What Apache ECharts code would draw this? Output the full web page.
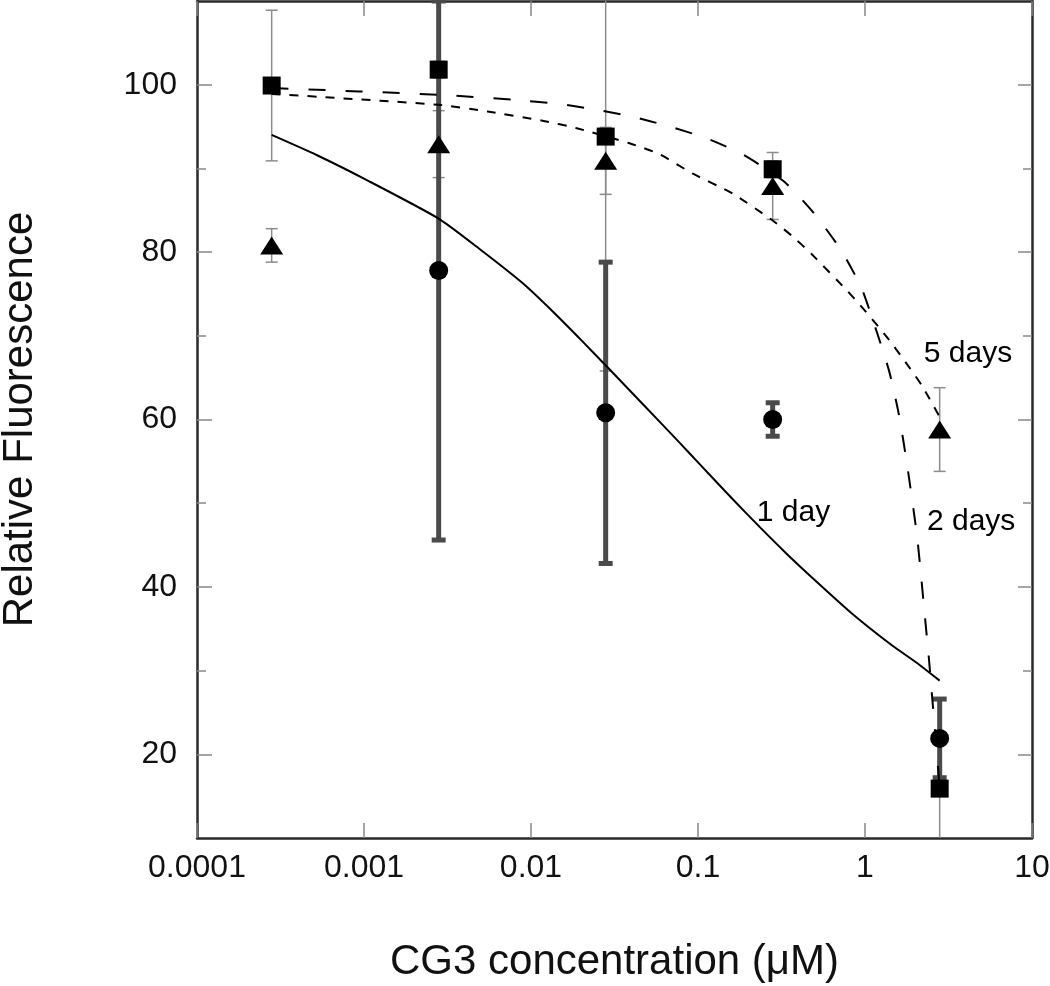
<!DOCTYPE html>
<html>
<head>
<meta charset="utf-8">
<script src="https://cdn.jsdelivr.net/npm/echarts@6/dist/echarts.min.js"></script>
<style>
html,body{margin:0;padding:0;background:#fff;}
#chart{width:1050px;height:986px;}
</style>
</head>
<body>
<div id="chart"></div>
<script>
// ---- axis ranges & ticks ----
const xMin = 0.0001, xMax = 10;
const yMin = 10, yMax = 110;
const xTicks = [0.0001, 0.001, 0.01, 0.1, 1, 10];
const yMajorTicks = [20, 40, 60, 80, 100];
const yMinorTicks = [30, 50, 70, 90];

// ---- measured data (dose in µM) ----
const dose = [0.00028, 0.0028, 0.028, 0.28, 2.8];
const day1Dose = [0.0028, 0.028, 0.28, 2.8];
const day1Mean = [77.8, 60.8, 60.0, 21.9];
const day1Err  = [32.2, 18, 2, 4.7];
const day2Mean = [99.9, 101.8, 93.8, 89.9, 15.9];
const day2Err  = [9, 1, 28, 1, 6.5];
const day5Mean = [80.8, 92.9, 90.9, 87.9, 58.8];
const day5Err  = [2, 4, 4, 4, 5];

// ---- fitted curves ----
const fit1Dose = [0.00028, 0.00052, 0.00104, 0.0028, 0.0049, 0.0089, 0.0135, 0.0204, 0.0295, 0.049, 0.077, 0.102, 0.161, 0.233, 0.338, 0.483, 0.838, 1.455, 2.02, 2.8];
const fit1Val  = [94.0, 91.6, 88.6, 84.0, 80.4, 76.3, 72.9, 69.3, 66.0, 61.4, 57.3, 54.7, 50.5, 47.2, 44.0, 41.1, 36.8, 33.0, 31.0, 28.8];
const fit2Dose = [0.00028, 0.0028, 0.0078, 0.0148, 0.0247, 0.040, 0.065, 0.109, 0.184, 0.329, 0.497, 0.721, 0.949, 1.135, 1.39, 1.595, 1.781, 2.04, 2.16, 2.28, 2.41, 2.51, 2.65, 2.8];
const fit2Val  = [99.6, 98.8, 98.2, 97.7, 97.0, 96.2, 95.1, 93.7, 91.7, 88.4, 84.6, 80.2, 75.8, 71.4, 65.9, 60.6, 54.8, 46.4, 41.6, 36.6, 31.6, 27.4, 21.8, 16.0];
const fit5Dose = [0.00028, 0.0028, 0.0055, 0.0117, 0.0188, 0.0389, 0.0588, 0.0925, 0.161, 0.279, 0.367, 0.477, 0.772, 0.923, 1.334, 1.757, 2.2, 2.8];
const fit5Val  = [98.9, 97.6, 96.8, 95.7, 94.8, 93.0, 91.7, 89.4, 87.0, 83.8, 81.9, 79.8, 75.5, 73.8, 70.0, 66.8, 64.0, 60.3];

// ---- curve labels ----
const curveLabels = ['1 day', '2 days', '5 days'];
const labelDose = [0.373, 4.32, 4.14];
const labelVal  = [48.9, 47.8, 67.8];

const FONT = '"Liberation Sans", Arial, Helvetica, sans-serif';
const zip = (a, b) => a.map((v, i) => [v, b[i]]);
const zip3 = (a, b, c) => a.map((v, i) => [v, b[i], c[i]]);

function errRender(lineW, capW, color) {
  return function (params, api) {
    const x = api.value(0), y = api.value(1), e = api.value(2);
    const loV = y - e, hiV = y + e;
    const lo = api.coord([x, Math.max(loV, yMin)]);
    const hi = api.coord([x, Math.min(hiV, yMax)]);
    const children = [{
      type: 'line',
      shape: {x1: lo[0], y1: lo[1], x2: hi[0], y2: hi[1]},
      style: {stroke: color, lineWidth: lineW}
    }];
    if (loV >= yMin) children.push({type: 'line', shape: {x1: lo[0] - capW / 2, y1: lo[1], x2: lo[0] + capW / 2, y2: lo[1]}, style: {stroke: color, lineWidth: lineW}});
    if (hiV <= yMax) children.push({type: 'line', shape: {x1: hi[0] - capW / 2, y1: hi[1], x2: hi[0] + capW / 2, y2: hi[1]}, style: {stroke: color, lineWidth: lineW}});
    return {type: 'group', children: children};
  };
}

const axisLineStyle = {color: '#2a2a2a', width: 2.5};
const tickStyle = {color: '#888', width: 1.5};

const chart = echarts.init(document.getElementById('chart'), null, {renderer: 'canvas'});
const option = {
  backgroundColor: '#fff',
  animation: false,
  textStyle: {fontFamily: FONT},
  grid: {left: 197, right: 18, top: 1, bottom: 148, containLabel: false, outerBoundsMode: 'none'},
  xAxis: [{
    type: 'log', logBase: 10, min: xMin, max: xMax, position: 'bottom',
    name: 'CG3 concentration (μM)', nameLocation: 'middle', nameGap: 103,
    nameTextStyle: {fontSize: 42, color: '#111', fontFamily: FONT},
    axisLine: {show: true, onZero: false, lineStyle: axisLineStyle},
    axisTick: {show: true, inside: true, length: 15, lineStyle: tickStyle, customValues: xTicks},
    axisLabel: {show: true, fontSize: 32, color: '#111', margin: 14, fontFamily: FONT, customValues: xTicks,
      formatter: v => String(+(+v).toPrecision(3))},
    splitLine: {show: false}, minorTick: {show: false}
  }, {
    type: 'log', logBase: 10, min: xMin, max: xMax, position: 'top',
    axisLine: {show: true, onZero: false, lineStyle: axisLineStyle},
    axisTick: {show: true, inside: true, length: 15, lineStyle: tickStyle, customValues: xTicks},
    axisLabel: {show: false}, splitLine: {show: false}
  }],
  yAxis: [{
    type: 'value', min: yMin, max: yMax, position: 'left',
    name: 'Relative Fluorescence', nameLocation: 'middle', nameGap: 156,
    nameTextStyle: {fontSize: 42, color: '#111', fontFamily: FONT},
    axisLine: {show: true, onZero: false, lineStyle: axisLineStyle},
    axisTick: {show: true, inside: true, length: 15, lineStyle: tickStyle, customValues: yMajorTicks},
    axisLabel: {show: true, fontSize: 32, color: '#111', margin: 20, fontFamily: FONT, customValues: yMajorTicks},
    splitLine: {show: false}
  }, {
    type: 'value', min: yMin, max: yMax, position: 'left',
    axisLine: {show: false},
    axisTick: {show: true, inside: true, length: 9, lineStyle: tickStyle, customValues: yMinorTicks},
    axisLabel: {show: false}, splitLine: {show: false}
  }, {
    type: 'value', min: yMin, max: yMax, position: 'right',
    axisLine: {show: true, onZero: false, lineStyle: axisLineStyle},
    axisTick: {show: true, inside: true, length: 14, lineStyle: tickStyle, customValues: yMajorTicks},
    axisLabel: {show: false}, splitLine: {show: false}
  }, {
    type: 'value', min: yMin, max: yMax, position: 'right',
    axisLine: {show: false},
    axisTick: {show: true, inside: true, length: 9, lineStyle: tickStyle, customValues: yMinorTicks},
    axisLabel: {show: false}, splitLine: {show: false}
  }],
  series: [
    // thin error bars (2 days, 5 days)
    {type: 'custom', name: '2 days err', renderItem: errRender(1.5, 12, '#8c8c8c'), data: zip3(dose, day2Mean, day2Err), encode: {x: 0, y: 1}, z: 2, silent: true},
    {type: 'custom', name: '5 days err', renderItem: errRender(1.5, 12, '#8c8c8c'), data: zip3(dose, day5Mean, day5Err), encode: {x: 0, y: 1}, z: 2, silent: true},
    // thick error bars (1 day)
    {type: 'custom', name: '1 day err', renderItem: errRender(5, 14, '#4a4a4a'), data: zip3(day1Dose, day1Mean, day1Err), encode: {x: 0, y: 1}, z: 3, silent: true},
    // fitted curves
    {type: 'line', name: '1 day fit', data: zip(fit1Dose, fit1Val), showSymbol: false, smooth: 0.2,
      lineStyle: {color: '#000', width: 2}, z: 4, silent: true},
    {type: 'line', name: '2 days fit', data: zip(fit2Dose, fit2Val), showSymbol: false, smooth: 0.2,
      lineStyle: {color: '#000', width: 2, type: [17, 20]}, z: 4, silent: true},
    {type: 'line', name: '5 days fit', data: zip(fit5Dose, fit5Val), showSymbol: false, smooth: 0.2,
      lineStyle: {color: '#000', width: 2, type: [9, 9]}, z: 4, silent: true},
    // markers
    {type: 'scatter', name: '2 days', data: zip(dose, day2Mean), symbol: 'rect', symbolSize: 18, itemStyle: {color: '#000', opacity: 1}, z: 6, silent: true},
    {type: 'scatter', name: '5 days', data: zip(dose, day5Mean), symbol: 'triangle', symbolSize: [23, 18], itemStyle: {color: '#000', opacity: 1}, z: 6, silent: true},
    {type: 'scatter', name: '1 day', data: zip(day1Dose, day1Mean), symbol: 'circle', symbolSize: 19, itemStyle: {color: '#000', opacity: 1}, z: 6, silent: true},
    // curve labels
    {type: 'scatter', name: 'labels', symbolSize: 0, silent: true, z: 7, itemStyle: {opacity: 1},
      data: curveLabels.map((t, i) => ({name: t, value: [labelDose[i], labelVal[i]]})),
      label: {show: true, position: 'inside', formatter: p => p.name, fontSize: 30, color: '#000', fontFamily: FONT}}
  ]
};
chart.setOption(option);
</script>
</body>
</html>
